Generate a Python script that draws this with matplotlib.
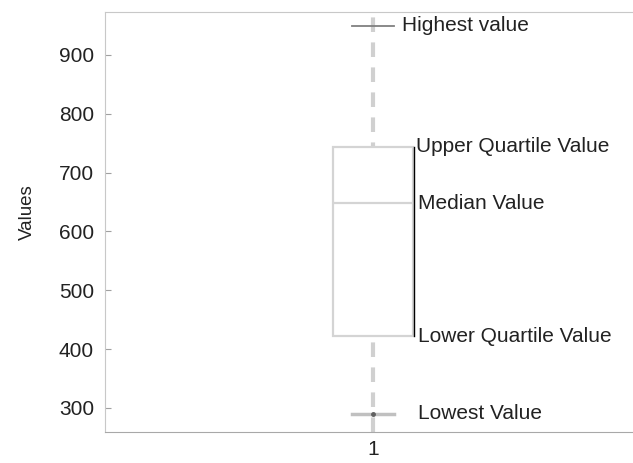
import matplotlib
matplotlib.use("Agg")
import matplotlib.pyplot as plt

plt.rcParams['font.family'] = ['Liberation Sans', 'DejaVu Sans']

# box plot summary values
labels = ['1']
lowest = 290
lower_q = 422
median = 648
upper_q = 744
highest = 950

notes = ['Highest value', 'Upper Quartile Value', 'Median Value',
         'Lower Quartile Value', 'Lowest Value']
note_vals = [highest, upper_q, median, lower_q, lowest]

fig = plt.figure(figsize=(6.33, 4.63), dpi=100)
ax = fig.add_axes([0.166, 0.067, 0.834, 0.907])

# dashed line running through the whole plot
ax.axvline(1, color='#d0d0d0', lw=3, ls=(0, (3.5, 2.5)), zorder=1)

stats = [dict(label=labels[0], whislo=lowest, q1=lower_q, med=median,
              q3=upper_q, whishi=highest)]
bp = ax.bxp(stats, positions=[1], widths=0.15, showfliers=False,
            patch_artist=True,
            boxprops=dict(facecolor='white', edgecolor='#d4d4d4', lw=1.6),
            medianprops=dict(color='#d4d4d4', lw=1.6),
            whiskerprops=dict(visible=False),
            capprops=dict(color='#808080', lw=1.3), capwidths=0.08)
for p in bp['boxes']:
    p.set_zorder(2)
for m in bp['medians']:
    m.set_zorder(3)
# lower cap is lighter and thicker with a dot in the middle
bp['caps'][0].set_color('#c0c0c0')
bp['caps'][0].set_linewidth(2.5)
ax.plot([1], [lowest], marker='o', ms=2.5, color='#606060', zorder=4)

# bracket beside the box
ax.plot([1.0755, 1.0755], [upper_q, lower_q], color='black', lw=1, zorder=4)

text_x = [1.054, 1.080, 1.084, 1.084, 1.084]
for t, v, x in zip(notes, note_vals, text_x):
    ax.text(x, v, t, fontsize=15, color='#222222', va='center', ha='left')

ax.set_xlim(0.5, 1.485)
ax.set_ylim(259, 973)
ax.set_yticks([300, 400, 500, 600, 700, 800, 900])
ax.set_ylabel('Values', fontsize=13.5, color='#222222')
ax.yaxis.set_label_coords(-0.131, 0.524)
ax.tick_params(axis='y', direction='in', length=4, color='#a0a0a0',
               labelsize=15, pad=8, labelcolor='#222222')
ax.tick_params(axis='x', length=0, labelsize=15, pad=6, labelcolor='#222222')
for s in ['left', 'top']:
    ax.spines[s].set_color('#c8c8c8')
ax.spines['bottom'].set_color('#a8a8a8')
ax.spines['right'].set_visible(False)

fig.savefig('out.png', dpi=100)
